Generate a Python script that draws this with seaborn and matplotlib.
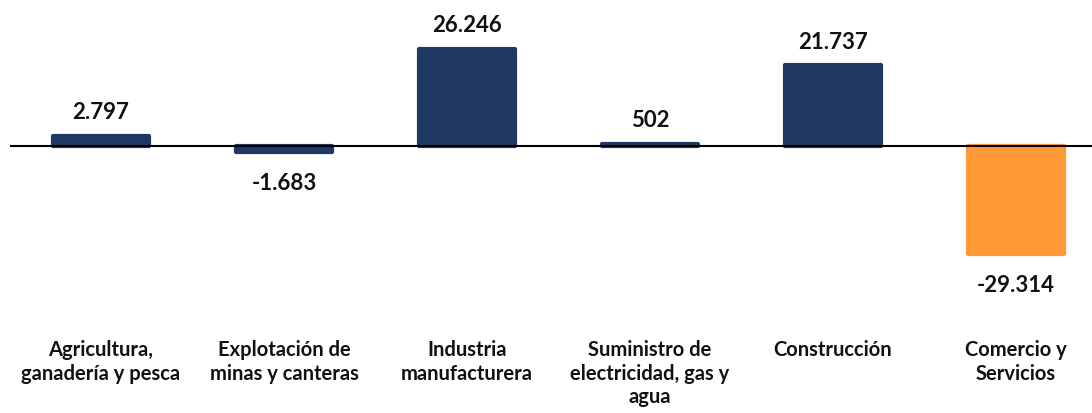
import matplotlib
matplotlib.use("Agg")
import matplotlib.pyplot as plt
import seaborn as sns
import pandas as pd

categories = ["Agricultura,\nganadería y pesca", "Explotación de\nminas y canteras",
              "Industria\nmanufacturera", "Suministro de\nelectricidad, gas y\nagua",
              "Construcción", "Comercio y\nServicios"]
values = [2797, -1683, 26246, 502, 21737, -29314]
colors = ["#203864", "#203864", "#203864", "#203864", "#203864", "#FF9A36"]

sns.set_theme(style="white")
plt.rcParams['font.family'] = ['Lato', 'DejaVu Sans']

W, H = 1092, 414
fig = plt.figure(figsize=(W / 100, H / 100), dpi=100)
ax_left, ax_right, ax_top, ax_bot = 10, 1092, 20, 330
ax = fig.add_axes([ax_left / W, 1 - ax_bot / H, (ax_right - ax_left) / W, (ax_bot - ax_top) / H])

df = pd.DataFrame({"cat": categories, "val": values})
sns.barplot(data=df, x="cat", y="val", hue="cat", palette=colors, legend=False,
            width=0.52, ax=ax, saturation=1)

for p, c in zip(ax.patches, colors):
    p.set_edgecolor(c)
    p.set_linewidth(3)
    p.set_joinstyle('round')

ax.axhline(0, color="black", lw=1.5, zorder=5)

ax.set_ylim(-49500, 34300)
ax.set_xlim(-0.497, 5.415)

for i, v in enumerate(values):
    label = f"{v:,}".replace(",", ".")
    if v >= 0:
        ax.annotate(label, (i, v), xytext=(0, 10), textcoords="offset points",
                    ha="center", va="bottom", fontsize=16, fontweight="bold", color="#111111")
    else:
        ax.annotate(label, (i, v), xytext=(0, -14), textcoords="offset points",
                    ha="center", va="top", fontsize=16, fontweight="bold", color="#111111")

ax.set_xticks(range(len(categories)))
ax.set_xticklabels(categories, fontsize=14.5, fontweight="bold", color="#111111", linespacing=1.24)
ax.tick_params(axis="x", length=0, pad=7)
ax.set_yticks([])
ax.set_xlabel("")
ax.set_ylabel("")
for s in ax.spines.values():
    s.set_visible(False)

fig.savefig("out.png", dpi=100)
